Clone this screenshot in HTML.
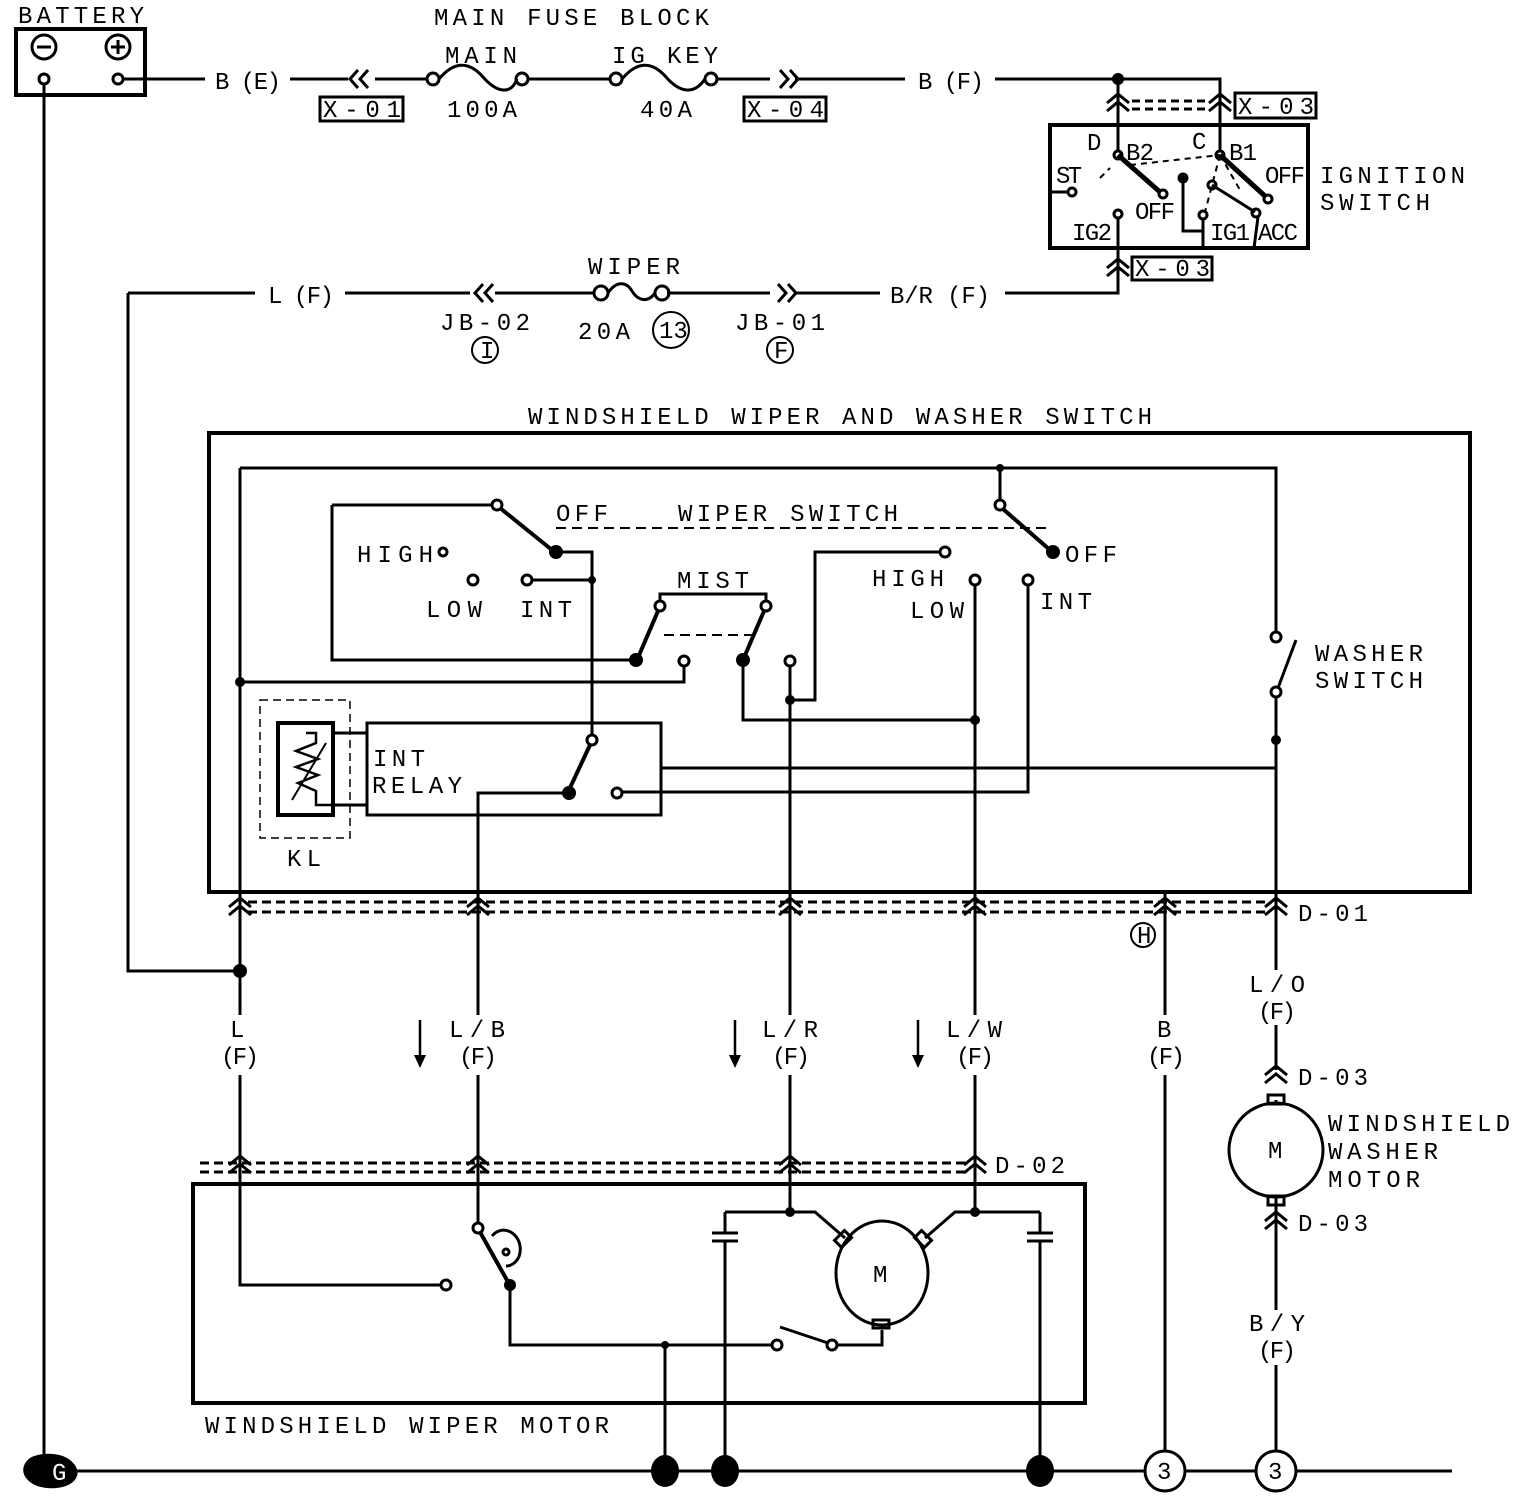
<!DOCTYPE html>
<html><head><meta charset="utf-8"><style>
html,body{margin:0;padding:0;background:#fff}
svg{display:block}
text{font-family:"Liberation Mono",monospace;font-size:24px;fill:#000}
</style></head><body>
<svg width="1520" height="1502" viewBox="0 0 1520 1502" xmlns="http://www.w3.org/2000/svg">
<defs>
<g id="chv"><path d="M-11,9 L0,0 L11,9 M-11,17 L0,8 L11,17" fill="none" stroke="#000" stroke-width="3"/></g>
</defs>
<g fill="none" stroke="#000" stroke-width="3">
<!-- battery -->
<rect x="16" y="29" width="129" height="66" stroke-width="4"/>
<circle cx="44" cy="47" r="12"/><path d="M37,47h14"/>
<circle cx="118" cy="47" r="12"/><path d="M111,47h14M118,40v14"/>
<circle cx="44" cy="79" r="5" fill="#fff"/><circle cx="118" cy="79" r="5" fill="#fff"/>
<path d="M44,84V1460"/>
<!-- top line -->
<path d="M123,79H205M290,79H348M375,79H428M527,79H610M716,79H770M795,79H905M995,79H1220V100"/>
<path d="M358,70l-8,9l8,9M368,70l-8,9l8,9M780,70l8,9l-8,9M790,70l8,9l-8,9"/>
<circle cx="433" cy="79" r="6"/><circle cx="522" cy="79" r="6"/>
<path d="M439,79c15,-18 30,-18 44,-2s28,18 34,2"/>
<circle cx="616" cy="79" r="6"/><circle cx="711" cy="79" r="6"/>
<path d="M622,79c15,-18 30,-18 44,-2s28,18 39,2"/>
<rect x="320" y="97" width="83" height="24"/><rect x="744" y="97" width="82" height="24"/>
<rect x="1235" y="93" width="81" height="25"/>
<path d="M1118,79V152M1220,100V150"/>
<path d="M1132,101H1208M1132,109H1208" stroke-dasharray="8,5"/>
<!-- ignition switch -->
<rect x="1050" y="125" width="258" height="123" stroke-width="4"/>
<circle cx="1118" cy="155" r="4"/><circle cx="1220" cy="155" r="4"/>
<path d="M1118,155L1160,192" stroke-width="5"/><circle cx="1163" cy="194" r="4"/>
<path d="M1220,155L1266,197" stroke-width="5"/><circle cx="1268" cy="199" r="4"/>
<circle cx="1072" cy="192" r="4"/><path d="M1050,192h18"/>
<circle cx="1118" cy="214" r="4"/><path d="M1118,218V293H1005"/>
<circle cx="1183" cy="178" r="4" fill="#000"/><path d="M1183,178V231H1203V248"/>
<circle cx="1212" cy="185" r="4"/><path d="M1212,185L1255,212"/><circle cx="1256" cy="213" r="4"/><path d="M1258,217L1254,248"/>
<circle cx="1203" cy="215" r="4"/><path d="M1203,219V248"/>
<path d="M1130,165L1220,155M1220,155L1212,185M1220,155L1240,190M1100,178l10,-10M1220,155L1205,212" stroke-width="2" stroke-dasharray="6,5"/>
<rect x="1132" y="257" width="80" height="23"/>
<!-- row 293 -->
<path d="M128,293H255M345,293H470M495,293H595M667,293H770M795,293H880"/>
<path d="M128,293V971H240"/>
<path d="M483,284l-8,9l8,9M493,284l-8,9l8,9M778,284l8,9l-8,9M788,284l8,9l-8,9"/>
<circle cx="601" cy="293" r="7"/><circle cx="662" cy="293" r="7"/>
<path d="M608,293c8,-12 18,-12 24,-2s16,12 23,2"/>
<circle cx="671" cy="330" r="18" stroke-width="2"/><circle cx="485" cy="350" r="13" stroke-width="2"/><circle cx="780" cy="350" r="13" stroke-width="2"/>
<!-- switch box -->
<rect x="209" y="433" width="1261" height="459" stroke-width="4"/>
<path d="M240,468H1276V632M240,468V925"/>
<circle cx="1276" cy="637" r="5"/><circle cx="1276" cy="692" r="5"/><path d="M1278,688L1296,640M1276,697V925"/>
<path d="M332,505H493M332,505V660H636"/>
<circle cx="497" cy="505" r="5"/><path d="M500,508L552,550" stroke-width="4"/>
<path d="M556,552H592V735M531,580H592"/>
<circle cx="443" cy="552" r="4"/><circle cx="473" cy="580" r="5"/><circle cx="527" cy="580" r="5"/>
<path d="M556,528H1050M664,635H760" stroke-width="2" stroke-dasharray="10,6"/>
<path d="M660,600V594H766V600"/>
<circle cx="660" cy="606" r="5"/><circle cx="766" cy="606" r="5"/>
<path d="M637,660L658,611M743,660L764,611" stroke-width="4"/>
<circle cx="684" cy="661" r="5"/><path d="M684,666V682H240"/>
<circle cx="790" cy="661" r="5"/>
<path d="M743,660V720H975"/>
<path d="M790,666V1015M790,1075V1212M790,700H815V552H940"/><circle cx="945" cy="552" r="5"/>
<path d="M1000,468V500"/><circle cx="1000" cy="505" r="5"/><path d="M1003,509L1050,550" stroke-width="4"/>
<circle cx="975" cy="580" r="5"/><path d="M975,585V1015M975,1075V1212"/>
<circle cx="1028" cy="580" r="5"/><path d="M1028,585V792H623"/>
<!-- relay -->
<rect x="367" y="723" width="294" height="92"/>
<circle cx="592" cy="740" r="5"/><path d="M590,745L569,790" stroke-width="4"/>
<circle cx="617" cy="793" r="5"/>
<path d="M568,793H478V1015M478,1075V1224M661,768H1276"/>
<rect x="260" y="700" width="90" height="138" stroke-width="1.5" stroke-dasharray="8,5"/>
<rect x="278" y="723" width="55" height="92" stroke-width="4"/>
<path d="M333,733H367M333,805H367"/>
<path d="M306,733h10v10l-20,8l22,8l-22,8l22,8l-20,8l18,8v14h30" stroke-width="2.5"/>
<path d="M292,800L326,743" stroke-width="2"/>
<!-- D-01 -->
<path d="M248,902H1270M248,912H1270" stroke-dasharray="9,5"/>
<path d="M1165,892V1015M1165,1075V1450"/>
<circle cx="1143" cy="935" r="12" stroke-width="2"/>
<!-- arrows -->
<path d="M420,1020V1058M735,1020V1058M918,1020V1058" stroke-width="2.5"/>
<!-- D-02 -->
<path d="M200,1163H968M200,1172H968" stroke-dasharray="9,5"/>
<!-- wiper motor -->
<rect x="193" y="1184" width="892" height="219" stroke-width="4"/>
<path d="M240,925V1015M240,1075V1285H440"/><circle cx="446" cy="1285" r="5"/>
<circle cx="478" cy="1228" r="5"/><path d="M480,1232L508,1282" stroke-width="4"/>
<path d="M492,1236c10,-12 26,-4 28,10c2,14 -8,20 -14,20"/><circle cx="506" cy="1252" r="3"/>
<path d="M510,1285V1345H771M665,1345V1470"/>
<circle cx="777" cy="1345" r="5"/><path d="M780,1327L828,1343"/><circle cx="832" cy="1345" r="5"/>
<path d="M837,1345H882V1330"/>
<ellipse cx="882" cy="1273" rx="46" ry="52"/>
<rect x="873" y="1320" width="16" height="8"/>
<path d="M725,1212H815L845,1238M1040,1212H955L925,1238"/>
<rect x="838" y="1232" width="10" height="14" transform="rotate(45 843 1239)"/>
<rect x="918" y="1232" width="10" height="14" transform="rotate(-45 923 1239)"/>
<path d="M725,1212V1233M712,1233H738M712,1241H738M725,1241V1470"/>
<path d="M1040,1212V1233M1027,1233H1053M1027,1241H1053M1040,1241V1470"/>
<!-- ground -->
<path d="M44,1471H1145M1185,1471H1256M1296,1471H1452"/>
<circle cx="1165" cy="1471" r="20"/><circle cx="1276" cy="1471" r="20"/>
<!-- washer motor -->
<path d="M1276,925V970M1276,1025V1070M1276,1100V1102M1276,1198V1310M1276,1365V1450"/>
<circle cx="1276" cy="1150" r="47"/>
<rect x="1268" y="1095" width="16" height="9"/><rect x="1268" y="1196" width="16" height="9"/>
</g>
<g fill="#000">
<path d="M414,1055L420,1068L426,1055zM729,1055L735,1068L741,1055zM912,1055L918,1068L924,1055z"/>
<circle cx="1118" cy="79" r="6"/>
<circle cx="556" cy="552" r="7"/><circle cx="592" cy="580" r="4"/>
<circle cx="636" cy="660" r="7"/><circle cx="743" cy="660" r="7"/>
<circle cx="1053" cy="552" r="7"/><circle cx="1000" cy="468" r="4"/>
<circle cx="240" cy="682" r="5"/><circle cx="790" cy="700" r="5"/><circle cx="975" cy="720" r="5"/>
<circle cx="1276" cy="740" r="5"/><circle cx="569" cy="793" r="7"/>
<circle cx="240" cy="971" r="7"/>
<circle cx="510" cy="1285" r="6"/><circle cx="665" cy="1345" r="4"/>
<circle cx="790" cy="1212" r="5"/><circle cx="975" cy="1212" r="5"/>
<ellipse cx="665" cy="1471" rx="14" ry="16"/><ellipse cx="725" cy="1471" rx="14" ry="16"/><ellipse cx="1040" cy="1471" rx="14" ry="16"/>
<path d="M30,1458c10,-6 30,-6 40,2c10,8 10,18 0,24c-10,6 -30,6 -40,-2c-10,-8 -8,-18 0,-24z"/>
</g>
<text x="52" y="1480" fill="#fff" style="fill:#fff" font-size="22">G</text>
<!-- chevrons -->
<use href="#chv" x="1118" y="94"/><use href="#chv" x="1220" y="94"/>
<use href="#chv" x="1118" y="259"/>
<use href="#chv" x="240" y="898"/><use href="#chv" x="478" y="898"/><use href="#chv" x="790" y="898"/><use href="#chv" x="975" y="898"/><use href="#chv" x="1165" y="898"/><use href="#chv" x="1276" y="898"/>
<use href="#chv" x="240" y="1156"/><use href="#chv" x="478" y="1156"/><use href="#chv" x="790" y="1156"/><use href="#chv" x="975" y="1156"/>
<use href="#chv" x="1276" y="1066"/><use href="#chv" x="1276" y="1212"/>
<!-- text -->
<text x="18" y="23" textLength="126">BATTERY</text>
<text x="434" y="25" textLength="275">MAIN FUSE BLOCK</text>
<text x="445" y="63" textLength="72">MAIN</text>
<text x="612" y="63" textLength="106">IG KEY</text>
<text x="447" y="117" textLength="70">100A</text>
<text x="640" y="117" textLength="52">40A</text>
<text x="215" y="89" textLength="66">B (E)</text>
<text x="918" y="89" textLength="66">B (F)</text>
<text x="323" y="117" textLength="78">X-01</text>
<text x="747" y="117" textLength="77">X-04</text>
<text x="1238" y="114" textLength="76">X-03</text>
<text x="1135" y="276" textLength="75">X-03</text>
<text x="1087" y="150" textLength="16">D</text>
<text x="1192" y="149" textLength="16">C</text>
<text x="1126" y="160" font-size="17" textLength="28">B2</text>
<text x="1229" y="160" font-size="17" textLength="28">B1</text>
<text x="1056" y="183" font-size="17" textLength="26">ST</text>
<text x="1265" y="183" font-size="17" textLength="40">OFF</text>
<text x="1135" y="219" font-size="17" textLength="40">OFF</text>
<text x="1072" y="240" font-size="17" textLength="40">IG2</text>
<text x="1210" y="240" font-size="17" textLength="40">IG1</text>
<text x="1258" y="240" font-size="17" textLength="40">ACC</text>
<text x="1320" y="183" textLength="145">IGNITION</text>
<text x="1320" y="210" textLength="110">SWITCH</text>
<text x="268" y="303" textLength="66">L (F)</text>
<text x="890" y="303" textLength="100">B/R (F)</text>
<text x="588" y="274" textLength="92">WIPER</text>
<text x="440" y="330" textLength="90">JB-02</text>
<text x="735" y="330" textLength="90">JB-01</text>
<text x="578" y="339" textLength="52">20A</text>
<text x="659" y="338" font-size="19">13</text>
<text x="480" y="358" font-size="18">I</text>
<text x="774" y="358" font-size="18">F</text>
<text x="528" y="424" textLength="624">WINDSHIELD WIPER AND WASHER SWITCH</text>
<text x="556" y="521" textLength="52">OFF</text>
<text x="678" y="521" textLength="220">WIPER SWITCH</text>
<text x="357" y="562" textLength="76">HIGH</text>
<text x="426" y="617" textLength="56">LOW</text>
<text x="520" y="617" textLength="52">INT</text>
<text x="677" y="588" textLength="72">MIST</text>
<text x="1065" y="562" textLength="52">OFF</text>
<text x="872" y="586" textLength="72">HIGH</text>
<text x="910" y="618" textLength="54">LOW</text>
<text x="1040" y="609" textLength="52">INT</text>
<text x="1315" y="661" textLength="108">WASHER</text>
<text x="1315" y="688" textLength="108">SWITCH</text>
<text x="373" y="766" textLength="52">INT</text>
<text x="372" y="793" textLength="90">RELAY</text>
<text x="287" y="866" textLength="34">KL</text>
<text x="1298" y="921" textLength="70">D-01</text>
<text x="1137" y="943" font-size="18">H</text>
<text x="230" y="1037">L</text><text x="221" y="1064" textLength="38">(F)</text>
<text x="449" y="1037" textLength="56">L/B</text><text x="459" y="1064" textLength="38">(F)</text>
<text x="762" y="1037" textLength="56">L/R</text><text x="772" y="1064" textLength="38">(F)</text>
<text x="946" y="1037" textLength="56">L/W</text><text x="956" y="1064" textLength="38">(F)</text>
<text x="1157" y="1037">B</text><text x="1147" y="1064" textLength="38">(F)</text>
<text x="1249" y="992" textLength="56">L/O</text><text x="1258" y="1019" textLength="38">(F)</text>
<text x="1249" y="1331" textLength="56">B/Y</text><text x="1258" y="1358" textLength="38">(F)</text>
<text x="995" y="1173" textLength="70">D-02</text>
<text x="1298" y="1085" textLength="70">D-03</text>
<text x="1298" y="1231" textLength="70">D-03</text>
<text x="1328" y="1131" textLength="182">WINDSHIELD</text>
<text x="1328" y="1159" textLength="110">WASHER</text>
<text x="1328" y="1187" textLength="92">MOTOR</text>
<text x="1268" y="1158" font-size="20">M</text>
<text x="873" y="1282" font-size="20">M</text>
<text x="205" y="1433" textLength="404">WINDSHIELD WIPER MOTOR</text>
<text x="1157" y="1479" font-size="22">3</text>
<text x="1268" y="1479" font-size="22">3</text>
</svg>
</body></html>
